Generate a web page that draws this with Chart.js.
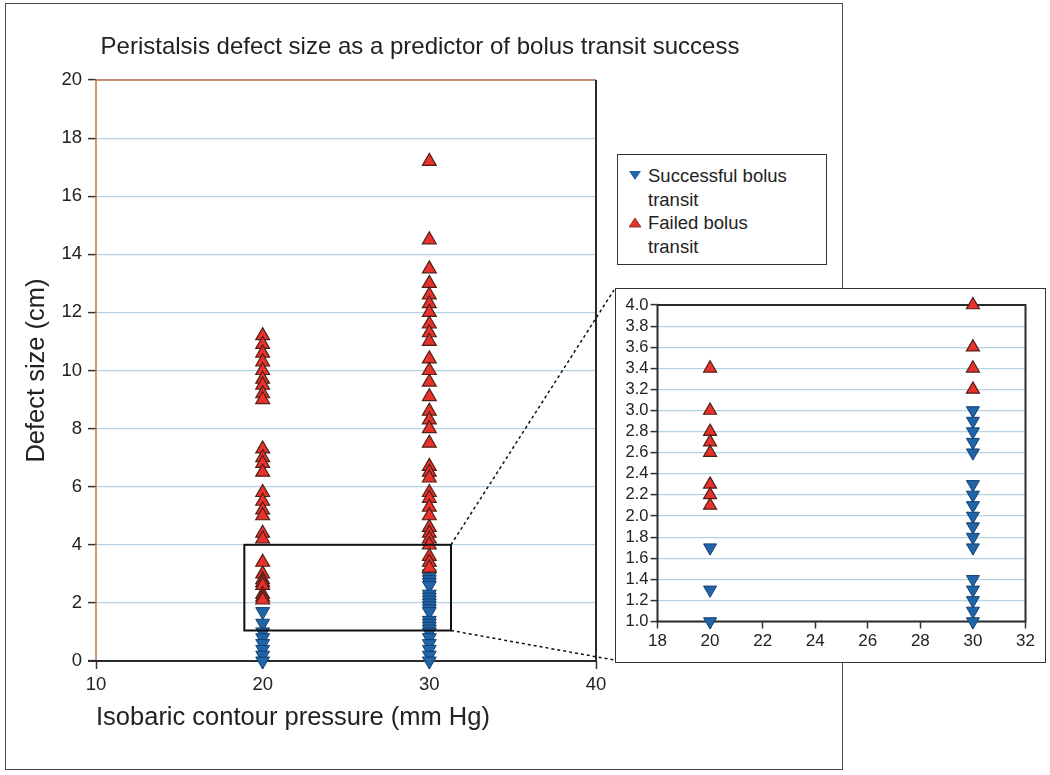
<!DOCTYPE html>
<html>
<head>
<meta charset="utf-8">
<script src="https://cdn.jsdelivr.net/npm/chart.js@4.4.0/dist/chart.umd.min.js"></script>
<style>
  html, body { margin: 0; padding: 0; background: #fff; }
  #wrap { position: relative; width: 1050px; height: 775px; font-family: "Liberation Sans", Arial, sans-serif; color: #222; }
  #frame { position: absolute; left: 5px; top: 3px; width: 836px; height: 765px; border: 1.5px solid #4a4a4a; }
  #mainChart { position: absolute; left: 0; top: 0; }
  #insetBox { position: absolute; left: 615px; top: 288px; width: 429px; height: 373px; border: 1.5px solid #333; background: #fff; }
  #insetChart { position: absolute; left: 0; top: 0; }
  #legend { position: absolute; left: 617px; top: 154px; width: 210px; height: 111px; border: 1.5px solid #333; background: #fff; font-size: 18.5px; padding-top: 9px; box-sizing: border-box; }
  #legend .line { position: relative; height: 23.5px; line-height: 23.5px; padding-left: 30px; white-space: nowrap; }
  #legend svg { position: absolute; left: 11px; top: 6px; }
</style>
</head>
<body>
<div id="wrap">
  <div id="frame"></div>
  <canvas id="mainChart" width="840" height="775"></canvas>
  <div id="legend">
    <div class="line"><svg width="12" height="11"><polygon points="0,1 12,1 6,10" fill="#1f65a8"/></svg>Successful bolus</div>
    <div class="line">transit</div>
    <div class="line"><svg width="12" height="11"><polygon points="0,10 12,10 6,1" fill="#e8322b" stroke="#6a2a20" stroke-width="0.8"/></svg>Failed bolus</div>
    <div class="line">transit</div>
  </div>
  <div id="insetBox"><canvas id="insetChart" width="429" height="373"></canvas></div>
</div>
<script>
// defect sizes (cm), per pressure threshold
const pressures = [20, 30];
const failed20 = [11.2, 10.9, 10.6, 10.3, 10.0, 9.7, 9.5, 9.2, 9.0, 7.3, 7.0, 6.8, 6.5, 5.8, 5.5, 5.2, 5.0, 4.4, 4.2, 3.4, 3.0, 2.8, 2.7, 2.6, 2.3, 2.2, 2.1];
const success20 = [1.7, 1.3, 1.0, 0.8, 0.6, 0.4, 0.2, 0.0];
const failed30 = [17.2, 14.5, 13.5, 13.0, 12.6, 12.3, 12.0, 11.6, 11.3, 11.0, 10.4, 10.0, 9.6, 9.1, 8.6, 8.3, 8.0, 7.5, 6.7, 6.5, 6.3, 5.8, 5.6, 5.3, 5.0, 4.6, 4.4, 4.2, 4.0, 3.6, 3.4, 3.2];
const success30 = [3.0, 2.9, 2.8, 2.7, 2.6, 2.3, 2.2, 2.1, 2.0, 1.9, 1.8, 1.7, 1.4, 1.3, 1.2, 1.1, 1.0, 0.8, 0.6, 0.4, 0.2, 0.0];

const mainXTicks = [10, 20, 30, 40];
const mainYTicks = [0, 2, 4, 6, 8, 10, 12, 14, 16, 18, 20];
const insetXTicks = [18, 20, 22, 24, 26, 28, 30, 32];
const insetYTicks = [1.0, 1.2, 1.4, 1.6, 1.8, 2.0, 2.2, 2.4, 2.6, 2.8, 3.0, 3.2, 3.4, 3.6, 3.8, 4.0];
// zoom window shown in the inset
const zoomX = [18.9, 31.3];
const zoomY = [1.05, 4.0];

const titleText = 'Peristalsis defect size as a predictor of bolus transit success';
const FONT = '"Liberation Sans", Arial, sans-serif';
const gridBlue = '#b4d4e4';

const pts = (x, arr, lo, hi) => arr.filter(v => v >= lo && v <= hi).map(v => ({ x: x, y: v }));

function makeSets(lo, hi, r) {
  const succ = {
    label: 'Successful bolus transit',
    data: pts(pressures[0], success20, lo, hi).concat(pts(pressures[1], success30, lo, hi)),
    pointStyle: 'triangle', rotation: 180, pointRadius: r,
    backgroundColor: '#1f65a8', borderColor: '#143f70', borderWidth: 1,
    clip: false
  };
  const fail = {
    label: 'Failed bolus transit',
    data: pts(pressures[0], failed20, lo, hi).concat(pts(pressures[1], failed30, lo, hi)),
    pointStyle: 'triangle', pointRadius: r,
    backgroundColor: '#e8322b', borderColor: '#4e2018', borderWidth: 1.2,
    clip: false
  };
  return [fail, succ];
}

const frameMain = {
  id: 'frameMain',
  beforeDatasetsDraw(chart) {
    const { ctx, chartArea: a } = chart;
    ctx.save();
    ctx.lineWidth = 1.5;
    ctx.strokeStyle = '#c4704a';
    ctx.beginPath();
    ctx.moveTo(a.left, a.bottom); ctx.lineTo(a.left, a.top); ctx.lineTo(a.right, a.top);
    ctx.stroke();
    ctx.lineWidth = 2;
    ctx.strokeStyle = '#2a2a2a';
    ctx.beginPath();
    ctx.moveTo(a.right, a.top); ctx.lineTo(a.right, a.bottom); ctx.lineTo(a.left - 8, a.bottom);
    ctx.stroke();
    ctx.restore();
  },
  afterDraw(chart) {
    const { ctx, scales: { x, y } } = chart;
    const l = x.getPixelForValue(zoomX[0]), r = x.getPixelForValue(zoomX[1]);
    const t = y.getPixelForValue(zoomY[1]), b = y.getPixelForValue(zoomY[0]);
    ctx.save();
    ctx.strokeStyle = '#111';
    ctx.lineWidth = 2;
    ctx.strokeRect(l, t, r - l, b - t);
    ctx.lineWidth = 1.5;
    ctx.setLineDash([3, 3]);
    ctx.beginPath();
    ctx.moveTo(r, t); ctx.lineTo(614, 290);
    ctx.moveTo(r, b); ctx.lineTo(614, 660);
    ctx.stroke();
    ctx.setLineDash([]);
    // chart title, centred over the figure panel
    ctx.fillStyle = '#222';
    ctx.font = '24px ' + FONT;
    ctx.textAlign = 'center';
    ctx.textBaseline = 'middle';
    ctx.fillText(titleText, 420, 47);
    ctx.restore();
  }
};

const frameInset = {
  id: 'frameInset',
  beforeDatasetsDraw(chart) {
    const { ctx, chartArea: a } = chart;
    ctx.save();
    ctx.lineWidth = 2;
    ctx.strokeStyle = '#2a2a2a';
    ctx.strokeRect(a.left, a.top, a.right - a.left, a.bottom - a.top);
    ctx.restore();
  }
};

new Chart(document.getElementById('mainChart'), {
  type: 'scatter',
  data: { datasets: makeSets(-1, 25, 8) },
  options: {
    responsive: false,
    animation: false,
    layout: { padding: { left: 0, top: 80, right: 244, bottom: 0 } },
    plugins: {
      legend: { display: false },
      tooltip: { enabled: false },
      title: { display: false }
    },
    scales: {
      x: {
        type: 'linear', min: 10, max: 40,
        afterBuildTicks: s => { s.ticks = mainXTicks.map(v => ({ value: v })); },
        afterFit: s => { s.height = 114; },
        grid: { drawOnChartArea: false, tickLength: 8, tickColor: '#333', tickWidth: 1.5 },
        border: { display: false },
        ticks: { color: '#222', padding: 5, font: { family: FONT, size: 18.5 } },
        title: {
          display: true, align: 'start', text: 'Isobaric contour pressure (mm Hg)', color: '#222',
          font: { family: FONT, size: 25.5, lineHeight: 1.2 }, padding: { top: 0, bottom: 42 }
        }
      },
      y: {
        type: 'linear', min: 0, max: 20,
        afterBuildTicks: s => { s.ticks = mainYTicks.map(v => ({ value: v })); },
        afterFit: s => { s.width = 96; },
        grid: { color: gridBlue, lineWidth: 1.2, tickLength: 8, tickColor: '#333', tickWidth: 1.5 },
        border: { display: false },
        ticks: { color: '#222', padding: 6, font: { family: FONT, size: 18.5 } },
        title: {
          display: true, text: 'Defect size (cm)', color: '#222',
          font: { family: FONT, size: 25.5, lineHeight: 1.2 }, padding: { top: 22, bottom: 0 }
        }
      }
    }
  },
  plugins: [frameMain]
});

new Chart(document.getElementById('insetChart'), {
  type: 'scatter',
  data: { datasets: makeSets(insetYTicks[0], insetYTicks[insetYTicks.length - 1], 7.5) },
  options: {
    responsive: false,
    animation: false,
    layout: { padding: { left: 0, top: 16, right: 19.5, bottom: 0 } },
    plugins: { legend: { display: false }, tooltip: { enabled: false } },
    scales: {
      x: {
        type: 'linear', min: 18, max: 32,
        afterBuildTicks: s => { s.ticks = insetXTicks.map(v => ({ value: v })); },
        afterFit: s => { s.height = 40.5; },
        grid: { drawOnChartArea: false, tickLength: 7, tickColor: '#333', tickWidth: 1.5 },
        border: { display: false },
        ticks: { color: '#222', padding: 3, autoSkip: false, maxRotation: 0, font: { family: FONT, size: 17 } }
      },
      y: {
        type: 'linear', min: 1, max: 4,
        afterBuildTicks: s => { s.ticks = insetYTicks.map(v => ({ value: v })); },
        afterFit: s => { s.width = 41.5; },
        grid: { color: gridBlue, lineWidth: 1.2, tickLength: 7, tickColor: '#333', tickWidth: 1.5 },
        border: { display: false },
        ticks: { color: '#222', padding: 2, autoSkip: false, font: { family: FONT, size: 16.5 }, callback: v => Number(v).toFixed(1) }
      }
    }
  },
  plugins: [frameInset]
});
</script>
</body>
</html>
